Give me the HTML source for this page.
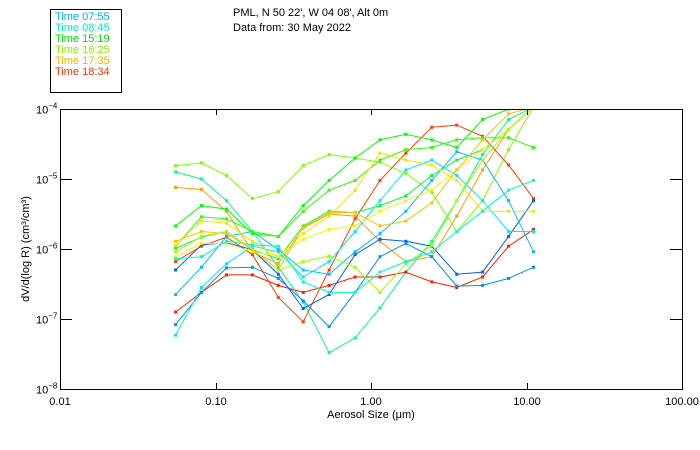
<!DOCTYPE html>
<html><head><meta charset="utf-8"><style>
body{margin:0;background:#fff;}
svg{display:block;font-family:"Liberation Sans",sans-serif;}
</style></head><body>
<svg id="chart" width="700" height="450" viewBox="0 0 700 450">
<rect x="0" y="0" width="700" height="450" fill="#fff"/>
<g>
<rect x="50.5" y="9.5" width="71" height="83" fill="none" stroke="#000"/>
<text x="55" y="20" font-size="11" fill="#00b0ff">Time 07:55</text>
<text x="55" y="31" font-size="11" fill="#00f0c0">Time 08:45</text>
<text x="55" y="42" font-size="11" fill="#00e000">Time 15:19</text>
<text x="55" y="53" font-size="11" fill="#90f000">Time 16:25</text>
<text x="55" y="64" font-size="11" fill="#ffb000">Time 17:35</text>
<text x="55" y="75" font-size="11" fill="#ff3000">Time 18:34</text>
</g>
<text x="233" y="16" font-size="11">PML, N 50 22', W 04 08', Alt 0m</text>
<text x="233" y="31" font-size="11">Data from: 30 May 2022</text>
<defs><clipPath id="plotclip"><rect x="60" y="109" width="622" height="280"/></clipPath></defs>
<g id="series" clip-path="url(#plotclip)"></g>
<rect x="60.5" y="109.5" width="622" height="280" fill="none" stroke="#000"/>
<g id="axes"></g>
<text x="371" y="418" font-size="11" text-anchor="middle">Aerosol Size (μm)</text>
<text transform="translate(29,249) rotate(-90)" font-size="11" text-anchor="middle">dV/d(log R) (cm³/cm³)</text>
</svg>
<script>
const sizes = [0.0554,0.0813,0.1177,0.1727,0.2534,0.3665,0.538,0.790,1.142,1.676,2.46,3.56,5.22,7.67,11.09];
const xTickVals = [0.01,0.1,1,10,100];
const xTickLabels = ["0.01","0.10","1.00","10.00","100.00"];
const yTickExps = [-4,-5,-6,-7,-8];
const colors = ["#80ff00","#00ff80","#ffa000","#ff4000","#ff2000","#0060ff","#0090ff","#00e8ff","#00c0ff","#00ff00","#30ff00","#00ff40","#ffe000","#fff000","#a0ff00","#00ffc0","#ffc000"];
// log10 of dV/d(log R)
const s01 = [-4.81,-4.77,-4.95,-5.28,-5.18,-4.81,-4.65,-4.70,-4.76,-4.92,-5.19,-5.75,-5.31,-4.58,-3.97];
const s02 = [-4.90,-5.00,-5.31,-5.75,-6.26,-6.76,-7.48,-7.27,-6.84,-6.33,-5.89,-5.31,-4.65,-4.15,-3.97];
const s03 = [-5.12,-5.15,-5.46,-6.04,-6.21,-5.70,-5.50,-5.53,-5.89,-6.18,-6.11,-5.53,-4.87,-4.29,-3.97];
const s04 = [-6.18,-5.96,-5.83,-6.08,-6.69,-7.04,-6.30,-5.57,-5.02,-4.63,-4.26,-4.23,-4.39,-4.80,-5.28];
const s05 = [-6.90,-6.62,-6.37,-6.37,-6.52,-6.62,-6.52,-6.40,-6.40,-6.33,-6.47,-6.55,-6.40,-5.96,-5.72];
const s06 = [-6.30,-5.94,-5.91,-6.01,-6.36,-6.85,-6.65,-6.08,-5.86,-5.89,-5.96,-6.36,-6.33,-5.82,-5.31];
const s07 = [-7.08,-6.62,-6.27,-6.26,-6.42,-6.74,-7.11,-6.62,-6.11,-5.92,-6.11,-6.53,-6.52,-6.42,-6.26];
const s08 = [-7.23,-6.55,-6.21,-5.96,-6.04,-6.40,-6.18,-5.75,-5.31,-4.87,-4.73,-4.95,-5.31,-5.75,-5.75];
const s09 = [-6.65,-6.26,-5.82,-5.75,-6.01,-6.30,-6.36,-6.04,-5.78,-5.46,-5.02,-4.61,-4.73,-5.31,-6.04];
const s10 = [-5.67,-5.38,-5.43,-5.78,-5.82,-5.38,-5.02,-4.70,-4.44,-4.36,-4.44,-4.55,-4.15,-4.00,-3.97];
const s11 = [-5.96,-5.54,-5.57,-5.75,-5.82,-5.46,-5.16,-5.02,-4.73,-4.58,-4.55,-4.44,-4.41,-4.41,-4.55];
const s12 = [-5.99,-5.83,-5.75,-6.01,-6.14,-5.67,-5.46,-5.48,-5.38,-5.24,-4.95,-4.73,-4.58,-4.29,-3.97];
const s13 = [-5.95,-5.60,-5.63,-5.89,-6.11,-5.78,-5.53,-5.16,-4.63,-4.73,-4.80,-5.02,-5.46,-5.46,-5.46];
const s14 = [-6.11,-5.92,-5.92,-6.04,-6.10,-5.86,-5.72,-5.67,-5.46,-5.31,-5.16,-4.87,-4.58,-4.29,-3.97];
const s15 = [-6.04,-5.82,-5.75,-6.01,-6.30,-6.18,-6.10,-6.26,-6.62,-6.21,-5.95,-5.31,-4.73,-4.29,-3.97];
const s16 = [-6.14,-6.11,-5.89,-5.94,-5.96,-6.47,-6.62,-6.62,-6.33,-6.18,-6.04,-5.75,-5.46,-5.16,-5.02];
const s17 = [-5.89,-5.75,-5.78,-6.01,-6.30,-5.69,-5.48,-5.48,-5.67,-5.60,-5.34,-4.87,-4.44,-4.07,-3.97];
const allSeries = [s01,s02,s03,s04,s05,s06,s07,s08,s09,s10,s11,s12,s13,s14,s15,s16,s17];

const NS = "http://www.w3.org/2000/svg";
const X0 = 60, X1 = 682, Y0 = 109, Y1 = 389;
function xScale(d){ return X0 + (Math.log10(d) + 2) / 4 * (X1 - X0); }
function yScale(l){ return Y0 + (-4 - l) / 4 * (Y1 - Y0); }

const axes = document.getElementById("axes");
function mk(tag, attrs, parent){ const e = document.createElementNS(NS, tag); for (const k in attrs) e.setAttribute(k, attrs[k]); parent.appendChild(e); return e; }

xTickVals.forEach((v, i) => {
  const x = Math.round(xScale(v)) + 0.5;
  if (i > 0 && i < xTickVals.length - 1) {
    const t1 = mk("line", {x1:x, x2:x, y1:Y1, y2:Y1-6, stroke:"#000"}, axes);
    
    
    const t2 = mk("line", {x1:x, x2:x, y1:Y0, y2:Y0+6, stroke:"#000"}, axes);
    
    
  }
  const lb = mk("text", {x: Math.round(xScale(v)), y: 405, "font-size": 11, "text-anchor": "middle"}, axes);
  
  
  lb.textContent = xTickLabels[i];
});
yTickExps.forEach((e, i) => {
  const y = Math.round(yScale(e)) + 0.5;
  if (i > 0 && i < yTickExps.length - 1) {
    const t1 = mk("line", {x1:X0, x2:X0+12, y1:y, y2:y, stroke:"#000"}, axes);
    
    
    const t2 = mk("line", {x1:X1, x2:X1-12, y1:y, y2:y, stroke:"#000"}, axes);
    
    
  }
  const lb = mk("text", {x: 36, y: y + 4, "font-size": 11}, axes);
  
  
  lb.textContent = "10";
  const sp = mk("tspan", {"font-size": 8, dy: -5}, lb);
  sp.textContent = String(e).replace("-", "−");
});

const sg = document.getElementById("series");
allSeries.forEach((vals, si) => {
  const g = mk("g", {}, sg);
  
  
  const pts = vals.map((v, i) => xScale(sizes[i]).toFixed(1) + "," + yScale(v).toFixed(1)).join(" ");
  const pl = mk("polyline", {points: pts, fill: "none", stroke: colors[si], "stroke-width": 1}, g);
  
  
  vals.forEach((v, i) => {
    const r = mk("rect", {x: xScale(sizes[i]) - 1.5, y: yScale(v) - 1.5, width: 3, height: 3, fill: colors[si]}, g);
    
    
  });
});
</script>
</body></html>
